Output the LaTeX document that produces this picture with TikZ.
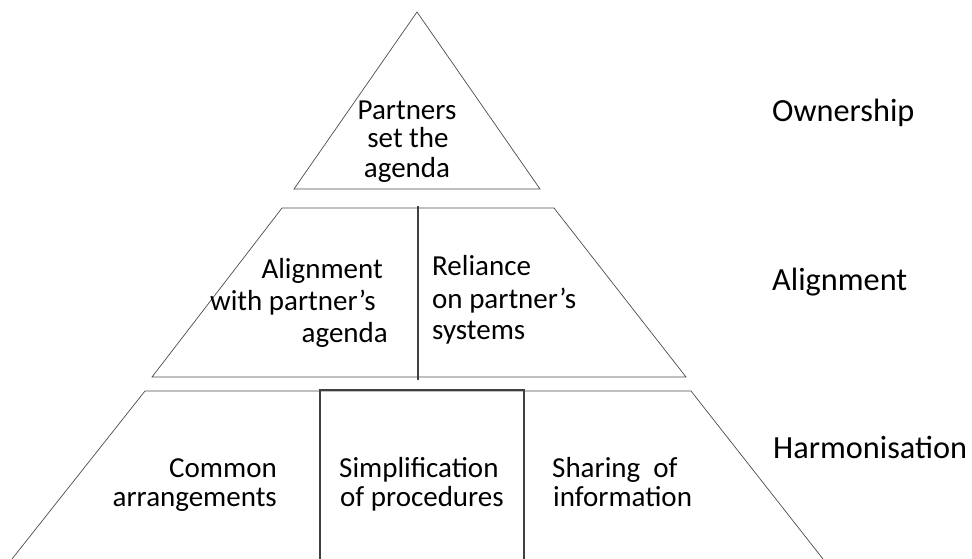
\documentclass[tikz,border=0pt]{standalone}
\usepackage{fontspec}
\setmainfont{Carlito}
\begin{document}
\begin{tikzpicture}[x=1pt,y=-1pt,
  outline/.style={draw=black!70, line width=0.7pt, line join=miter},
  split/.style={draw=black!75, line width=1.1pt},
  txt/.style={font=\fontsize{29}{30}\selectfont, inner sep=0pt},
  lvl/.style={font=\fontsize{32.3}{34}\selectfont, inner sep=0pt, anchor=base west}]
\useasboundingbox (0,0) rectangle (972,559);
% top triangle
\coordinate (apex) at (417,12);
\coordinate (tr) at (540,189);
\coordinate (tl) at (294,189);
\draw[outline] (apex) -- (tr) -- (tl) -- cycle;
% middle trapezoid
\coordinate (m1) at (282,208);
\coordinate (m2) at (554,208);
\coordinate (m3) at (686,377);
\coordinate (m4) at (152,377);
\draw[outline] (m1) -- (m2) -- (m3) -- (m4) -- cycle;
\coordinate (d1) at (418,206);
\coordinate (d2) at (418,380);
\draw[split] (d1) -- (d2);
% bottom trapezoid
\coordinate (b1) at (12,559);
\coordinate (b2) at (145,391);
\coordinate (b3) at (691,391);
\coordinate (b4) at (823,559);
\draw[outline] (b1) -- (b2) -- (b3) -- (b4);
\coordinate (x1) at (320,559);
\coordinate (x2) at (320,390);
\coordinate (x3) at (524,390);
\coordinate (x4) at (524,559);
\draw[split] (x1) -- (x2) -- (x3) -- (x4);
% top text
\node[txt, anchor=base] (p1) at (407,120) {Partners};
\node[txt, anchor=base] (p2) at (408,148) {set the};
\node[txt, anchor=base] (p3) at (407,177) {agenda};
% middle left
\node[txt, anchor=base east] (al1) at (383,278) {Alignment};
\node[txt, anchor=base east] (al2) at (376,310) {with partner’s};
\node[txt, anchor=base east] (al3) at (388,342) {agenda};
% middle right
\node[txt, anchor=base west] (r1) at (432,275) {Reliance};
\node[txt, anchor=base west] (r2) at (432,308) {on partner’s};
\node[txt, anchor=base west] (r3) at (432,339) {systems};
% bottom
\node[txt, anchor=base east] (c1) at (277,477) {Common};
\node[txt, anchor=base east] (c2) at (277,506) {arrangements};
\node[txt, anchor=base west] (s1) at (339,477) {Simplification};
\node[txt, anchor=base west] (s2) at (340,506) {of procedures};
\node[txt, anchor=base west] (h1) at (552,477) {Sharing\ \ of};
\node[txt, anchor=base west] (h2) at (553,506) {information};
% level labels
\node[lvl] (own) at (772,122) {Ownership};
\node[lvl] (ali) at (772,290) {Alignment};
\node[lvl] (har) at (773,458) {Harmonisation};
\end{tikzpicture}
\end{document}
